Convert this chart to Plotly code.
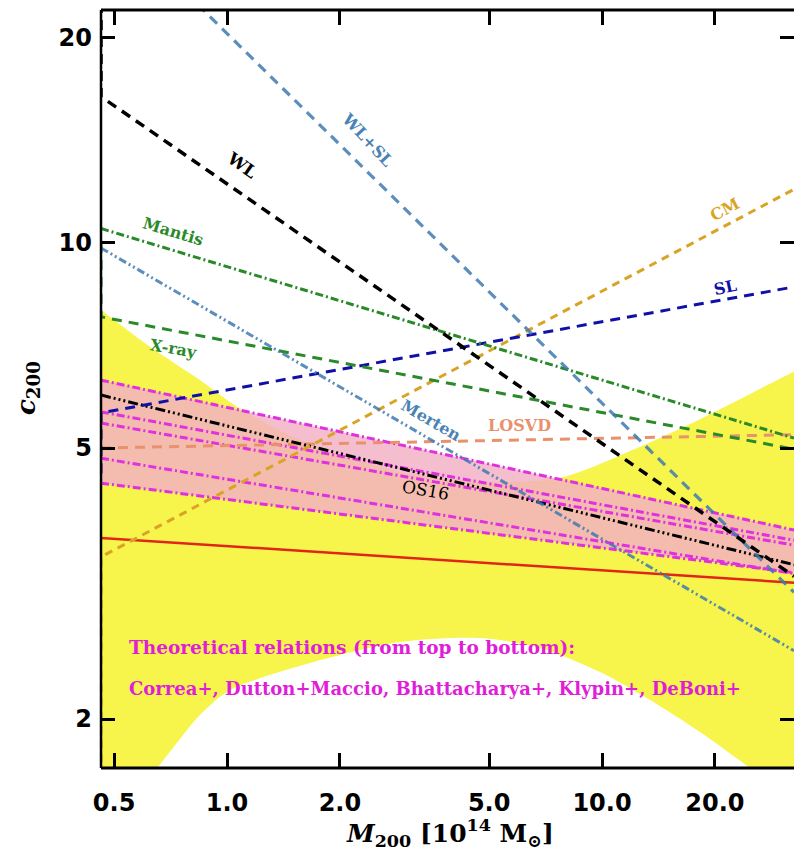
import math
import plotly.graph_objects as go

# ---------------- data ----------------
M_LO, M_HI = 0.4613, 32.5          # mass range of the plot [1e14 Msun]
C_LO, C_HI = 1.695, 21.98          # concentration range

m_span = [M_LO, M_HI]              # straight power-law relations: values at both ends
m_edge = [M_LO, M_LO, M_HI]        # relations with a vertical piece at the left edge

wl_c     = [30.0, 16.4, 3.24]      # WL (with left-edge segment)
wlsl_c   = [30.9, 3.07]            # WL+SL
mantis_c = [10.5, 5.17]            # Mantis
xray_c   = [10.0, 7.79, 4.98]      # X-ray (with left-edge segment)
merten_c = [9.83, 2.52]            # Merten
sl_c     = [4.59, 5.63, 8.62]      # SL (with left-edge segment)
cm_c     = [1.50, 3.46, 11.99]     # CM (with left-edge segment)
losvd_c  = [5.00, 5.23]            # LOSVD
os16_c   = [5.98, 3.37]            # OS16
red_c    = [3.69, 3.17]            # red solid relation

theory_names = ["Correa+", "Dutton+Maccio", "Bhattacharya+", "Klypin+", "DeBoni+"]
theory_c = [[6.29, 3.79], [5.65, 3.66], [5.44, 3.60], [4.83, 3.27], [4.44, 3.28]]

# yellow region boundaries
band_up_m = [0.40, 0.4613, 0.6233, 0.847, 1.083, 1.565, 2.893, 4.728, 7.727, 12.10, 18.25, 32.5, 40.0]
band_up_c = [8.45, 7.97, 7.04, 6.29, 5.71, 5.14, 4.61, 4.46, 4.52, 4.97, 5.51, 6.47, 6.80]
band_lo_m = [40.0, 32.5, 24.81, 18.25, 13.43, 9.878, 6.835, 4.728, 2.893, 1.664, 1.019, 0.847, 0.6506, 0.4613, 0.40]
band_lo_c = [1.41, 1.52, 1.695, 1.914, 2.133, 2.344, 2.543, 2.63, 2.595, 2.417, 2.206, 2.027, 1.695, 1.38, 1.27]

x_ticks = [0.5, 1.0, 2.0, 5.0, 10.0, 20.0]
x_ticktext = ["0.5", "1.0", "2.0", "5.0", "10.0", "20.0"]
y_ticks = [2, 5, 10, 20]

# ---------------- styles ----------------
STEEL = "rgba(62,122,176,0.85)"
STEEL_TXT = "#4a82b4"
GREEN = "#2a8a2a"
BLUE = "#1010a8"
GOLD = "#d9a425"
SALMON = "#e8916c"
MAGENTA = "#e030e0"
MAG_TXT = "#e01ed8"
RED = "#e0261a"
YELLOW = "#f7f54c"
PINK = "rgba(242,176,196,0.82)"

DASH = "10px,7px"
DASHDOT = "8px,3px,2px,3px"
DASHDOT3 = "8px,3px,2px,3px,2px,3px"
DASHDOT3B = "10px,3px,2px,3px,2px,3px,2px,3px"

fig = go.Figure()

# yellow region
fig.add_trace(go.Scatter(
    x=band_up_m + band_lo_m, y=band_up_c + band_lo_c,
    mode="lines", fill="toself", fillcolor=YELLOW,
    line=dict(width=0, color=YELLOW, shape="spline", smoothing=0.8),
    hoverinfo="skip", showlegend=False))

# pink band between top and bottom theoretical relation
fig.add_trace(go.Scatter(
    x=m_span + m_span[::-1], y=theory_c[0] + theory_c[-1][::-1],
    mode="lines", fill="toself", fillcolor=PINK, line=dict(width=0),
    hoverinfo="skip", showlegend=False))


def add_line(x, y, color, dash, width=3.0):
    fig.add_trace(go.Scatter(x=x, y=y, mode="lines",
                             line=dict(color=color, dash=dash, width=width),
                             hoverinfo="skip", showlegend=False))


add_line(m_span, red_c, RED, "solid", 2.5)
for cvals in theory_c:
    add_line(m_span, cvals, MAGENTA, DASHDOT, 3.0)
add_line(m_span, losvd_c, SALMON, DASH)
add_line(m_span, os16_c, "black", DASHDOT3B)
add_line(m_edge, cm_c, GOLD, "8px,6px")
add_line(m_edge, sl_c, BLUE, DASH)
add_line(m_edge, xray_c, GREEN, DASH)
add_line(m_span, mantis_c, GREEN, DASHDOT)
add_line(m_span, merten_c, STEEL, DASHDOT3)
add_line(m_span, wlsl_c, STEEL, DASH, 3.2)
add_line(m_edge, wl_c, "black", DASH, 3.5)

# ---------------- labels ----------------
LBL_FONT = "DejaVu Serif"
labels = [
    ("WL", 1.096, 13.02, "black", 35, True, 17),
    ("WL+SL", 2.362, 14.17, STEEL_TXT, 47, True, 16),
    ("Mantis", 0.718, 10.38, GREEN, 17, True, 16),
    ("X-ray", 0.718, 7.01, GREEN, 10, True, 16),
    ("Merten", 3.499, 5.48, STEEL_TXT, 30, True, 16),
    ("LOSVD", 6.007, 5.40, SALMON, 0, True, 16),
    ("OS16", 3.373, 4.34, "black", 10, False, 17),
    ("CM", 21.28, 11.18, GOLD, -28, True, 16),
    ("SL", 21.28, 8.59, BLUE, -12, True, 16),
]
for txt, mx, cy, col, ang, bold, sz in labels:
    fig.add_annotation(x=math.log10(mx), y=math.log10(cy), text=txt, showarrow=False,
                       textangle=ang, xanchor="center", yanchor="middle",
                       font=dict(family=LBL_FONT, size=sz, color=col,
                                 weight="bold" if bold else "normal"))

fig.add_annotation(x=math.log10(0.5423), y=math.log10(2.55), xanchor="left", yanchor="middle",
                   text="Theoretical relations (from top to bottom):", showarrow=False,
                   font=dict(family=LBL_FONT, size=18.5, color=MAG_TXT, weight="bold"))
fig.add_annotation(x=math.log10(0.5423), y=math.log10(2.22), xanchor="left", yanchor="middle",
                   text=", ".join(theory_names), showarrow=False,
                   font=dict(family=LBL_FONT, size=18, color=MAG_TXT, weight="bold"))

# axis titles
fig.add_annotation(xref="paper", yref="paper", x=(450 - 101) / 693, y=(768 - 833) / 758,
                   text="<i>M</i><sub>200</sub> [10<sup>14</sup> M<sub>\u2299</sub>]",
                   showarrow=False, xanchor="center", yanchor="middle",
                   font=dict(family="DejaVu Serif", size=25, color="black", weight="bold"))
fig.add_annotation(xref="paper", yref="paper", x=(27 - 101) / 693, y=(768 - 388) / 758,
                   text="<i>c</i><sub>200</sub>", textangle=-90,
                   showarrow=False, xanchor="center", yanchor="middle",
                   font=dict(family="DejaVu Serif", size=26, color="black", weight="bold"))

# frame (left, bottom, top)
for x0, y0, x1, y1, w in [(0, 0, 0, 1, 2.5), (0, 0, 1, 0, 3), (0, 1, 1, 1, 3)]:
    fig.add_shape(type="line", xref="paper", yref="paper", x0=x0, y0=y0, x1=x1, y1=y1,
                  line=dict(color="black", width=w), layer="above")

TICK_FONT = dict(family="DejaVu Sans", size=24, color="black", weight="bold")
fig.update_xaxes(type="log", range=[math.log10(M_LO), math.log10(M_HI)],
                 tickvals=x_ticks, ticktext=x_ticktext, ticks="inside", ticklen=15,
                 tickwidth=2.5, tickcolor="black", mirror="ticks", showline=False,
                 showgrid=False, zeroline=False, tickfont=TICK_FONT, ticklabelstandoff=18)
fig.update_yaxes(type="log", range=[math.log10(C_LO), math.log10(C_HI)],
                 tickvals=y_ticks, ticktext=[str(v) for v in y_ticks], ticks="inside",
                 ticklen=14, tickwidth=2.5, tickcolor="black", mirror="ticks",
                 showline=False, showgrid=False, zeroline=False, tickfont=TICK_FONT,
                 ticklabelstandoff=8)

fig.update_layout(width=794, height=855, margin=dict(l=101, r=0, t=10, b=87),
                  plot_bgcolor="white", paper_bgcolor="white", showlegend=False)

fig.write_html("out.html")
